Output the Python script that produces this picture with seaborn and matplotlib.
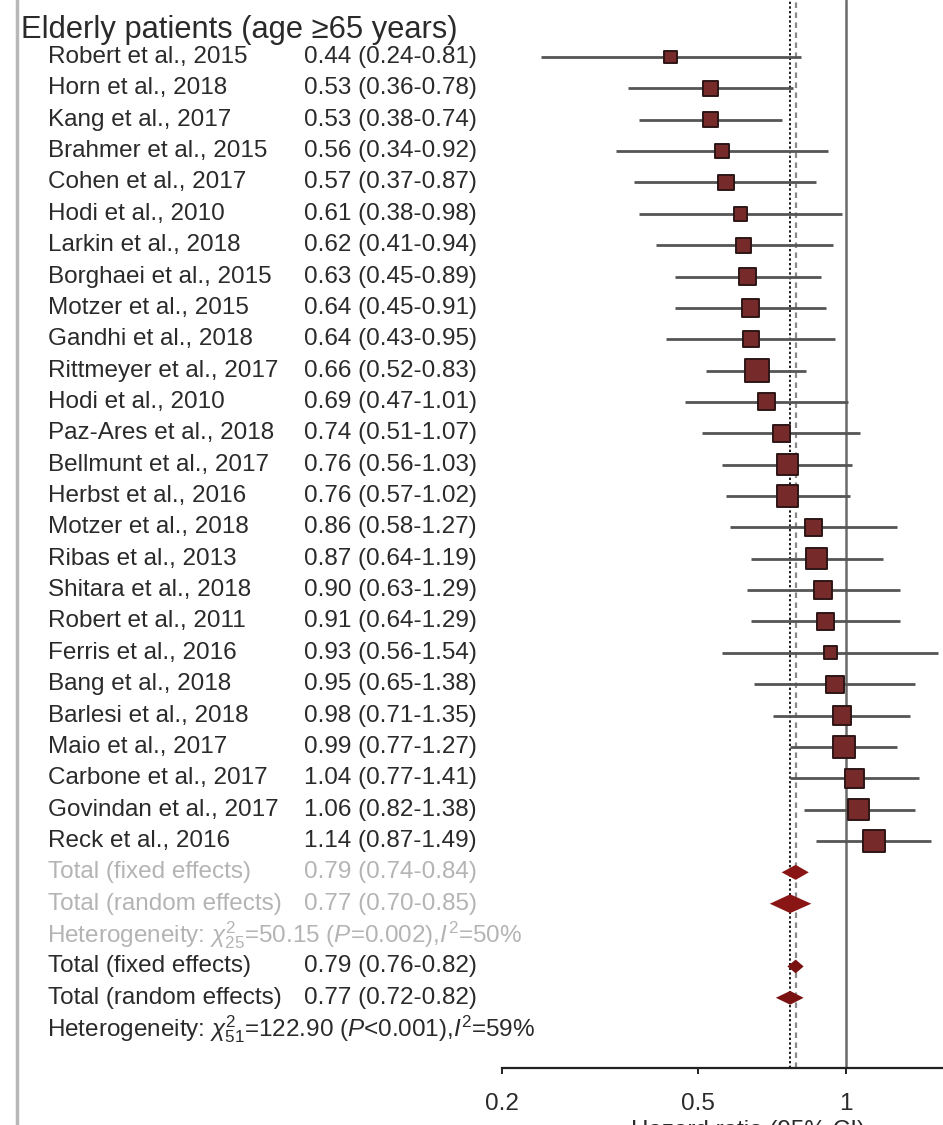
import numpy as np
import pandas as pd
import matplotlib
matplotlib.use("Agg")
import matplotlib.pyplot as plt
import seaborn as sns
from matplotlib.lines import Line2D
from matplotlib.transforms import blended_transform_factory

# ---------------- data ----------------
title = "Elderly patients (age \u226565 years)"
studies = ["Robert et al., 2015", "Horn et al., 2018", "Kang et al., 2017",
           "Brahmer et al., 2015", "Cohen et al., 2017", "Hodi et al., 2010",
           "Larkin et al., 2018", "Borghaei et al., 2015", "Motzer et al., 2015",
           "Gandhi et al., 2018", "Rittmeyer et al., 2017", "Hodi et al., 2010",
           "Paz-Ares et al., 2018", "Bellmunt et al., 2017", "Herbst et al., 2016",
           "Motzer et al., 2018", "Ribas et al., 2013", "Shitara et al., 2018",
           "Robert et al., 2011", "Ferris et al., 2016", "Bang et al., 2018",
           "Barlesi et al., 2018", "Maio et al., 2017", "Carbone et al., 2017",
           "Govindan et al., 2017", "Reck et al., 2016"]
hr = [0.44, 0.53, 0.53, 0.56, 0.57, 0.61, 0.62, 0.63, 0.64, 0.64, 0.66, 0.69, 0.74,
      0.76, 0.76, 0.86, 0.87, 0.90, 0.91, 0.93, 0.95, 0.98, 0.99, 1.04, 1.06, 1.14]
lo = [0.24, 0.36, 0.38, 0.34, 0.37, 0.38, 0.41, 0.45, 0.45, 0.43, 0.52, 0.47, 0.51,
      0.56, 0.57, 0.58, 0.64, 0.63, 0.64, 0.56, 0.65, 0.71, 0.77, 0.77, 0.82, 0.87]
hi = [0.81, 0.78, 0.74, 0.92, 0.87, 0.98, 0.94, 0.89, 0.91, 0.95, 0.83, 1.01, 1.07,
      1.03, 1.02, 1.27, 1.19, 1.29, 1.29, 1.54, 1.38, 1.35, 1.27, 1.41, 1.38, 1.49]
# relative study weights (marker area)
weights = [1.4, 2.0, 2.0, 1.6, 2.0, 1.6, 2.0, 2.6, 2.6, 2.2, 4.8, 2.5, 2.5,
           4.0, 4.0, 2.5, 3.8, 2.8, 2.5, 1.4, 2.6, 2.9, 4.4, 3.2, 4.0, 4.0]

summary_labels = ["Total (fixed effects)", "Total (random effects)"]
sub_hr = [0.79, 0.77]
sub_lo = [0.74, 0.70]
sub_hi = [0.84, 0.85]
all_hr = [0.79, 0.77]
all_lo = [0.76, 0.72]
all_hi = [0.82, 0.82]
het_sub = r"Heterogeneity: $\chi^{2}_{25}$=50.15 ($P$=0.002),$I^{2}$=50%"
het_all = r"Heterogeneity: $\chi^{2}_{51}$=122.90 ($P$<0.001),$I^{2}$=59%"
xticks = [0.2, 0.5, 1, 2]
xticklabels = ["0.2", "0.5", "1", "2"]
xlabel = "Hazard ratio (95% CI)"

# ---------------- style ----------------
sns.set_theme(style="white")
plt.rcParams["font.family"] = ["Liberation Sans", "DejaVu Sans"]
plt.rcParams["mathtext.fontset"] = "custom"
plt.rcParams["mathtext.rm"] = "Liberation Sans"
plt.rcParams["mathtext.it"] = "Liberation Sans:italic"
plt.rcParams["mathtext.bf"] = "Liberation Sans:bold"

W, H = 943, 1125
fig = plt.figure(figsize=(W / 100, H / 100), dpi=100)
axis_px = 1068
ax = fig.add_axes([0, (H - axis_px) / H, 1, axis_px / H])
row0_px, row_step = 57, 31.36
ax.set_xscale("log")
px_per_ln = 213.6
x_left = np.exp((0 - 846) / px_per_ln)
x_right = np.exp((W - 846) / px_per_ln)

fs = 17.5
txt_dark = "#2a2a2a"
txt_grey = "#b4b4b4"
tr = blended_transform_factory(ax.transAxes, ax.transData)
def xf(px):
    return px / W

n = len(studies)
rows = np.arange(n)
df = pd.DataFrame({"study": studies, "hr": hr, "lo": lo, "hi": hi,
                   "w": weights, "row": rows})

# reference lines
ax.axvline(1, color="#6a6a6a", lw=1.8, zorder=1)
ax.axvline(0.77, color="#1a1a1a", lw=1.4, ls=(0, (1.2, 1.2)), zorder=1)
ax.axvline(0.79, color="#8a8a8a", lw=1.6, ls=(0, (2.5, 2.0)), zorder=1)

# CI lines
ax.hlines(df["row"], df["lo"], df["hi"], color="#555555", lw=2.0, zorder=2)

# study squares
k = 60.0
sns.scatterplot(data=df, x="hr", y="row", size="w", sizes=(0, k * max(weights)),
                size_norm=(0, max(weights)), marker="s", color="#762a2a",
                edgecolor="#2e1616", linewidth=1.4, legend=False, ax=ax, zorder=3)

# diamonds
def diamond(y, c, l, h, half, color):
    ax.fill([l, c, h, c], [y, y - half, y, y + half], color=color, lw=0, zorder=4)

sum_rows_sub = [n, n + 1]
sum_rows_all = [n + 3, n + 4]
diamond(sum_rows_sub[0], sub_hr[0], sub_lo[0], sub_hi[0], 0.24, "#8a1515")
diamond(sum_rows_sub[1], sub_hr[1], sub_lo[1], sub_hi[1], 0.30, "#8a1515")
diamond(sum_rows_all[0], all_hr[0], all_lo[0], all_hi[0], 0.22, "#7a1212")
diamond(sum_rows_all[1], all_hr[1], all_lo[1], all_hi[1], 0.22, "#7a1212")

# texts
ax.text(xf(21), (30 - row0_px) / row_step, title, transform=tr, fontsize=22.2,
        color=txt_dark, va="center", ha="left")
for i in range(n):
    ax.text(xf(48), i, studies[i], transform=tr, fontsize=fs, color=txt_dark,
            va="center", ha="left")
    ax.text(xf(304), i, f"{hr[i]:.2f} ({lo[i]:.2f}-{hi[i]:.2f})", transform=tr,
            fontsize=fs, color=txt_dark, va="center", ha="left")
for j in range(2):
    ax.text(xf(48), sum_rows_sub[j], summary_labels[j], transform=tr, fontsize=fs,
            color=txt_grey, va="center", ha="left")
    ax.text(xf(304), sum_rows_sub[j], f"{sub_hr[j]:.2f} ({sub_lo[j]:.2f}-{sub_hi[j]:.2f})",
            transform=tr, fontsize=fs, color=txt_grey, va="center", ha="left")
    ax.text(xf(48), sum_rows_all[j], summary_labels[j], transform=tr, fontsize=fs,
            color=txt_dark, va="center", ha="left")
    ax.text(xf(304), sum_rows_all[j], f"{all_hr[j]:.2f} ({all_lo[j]:.2f}-{all_hi[j]:.2f})",
            transform=tr, fontsize=fs, color=txt_dark, va="center", ha="left")
ax.text(xf(47), n + 2, het_sub, transform=tr, fontsize=fs, color=txt_grey,
        va="center", ha="left")
ax.text(xf(47), n + 5, het_all, transform=tr, fontsize=fs, color=txt_dark,
        va="center", ha="left")

# axis
for s in ["top", "right", "left"]:
    ax.spines[s].set_visible(False)
ax.spines["bottom"].set_bounds(0.2, 2)
ax.spines["bottom"].set_color("#222222")
ax.spines["bottom"].set_linewidth(1.6)
ax.set_xticks(xticks)
ax.set_xticklabels(xticklabels)
ax.xaxis.set_minor_locator(matplotlib.ticker.NullLocator())
ax.tick_params(axis="x", direction="out", length=4, width=1.4, color="#222222",
               labelsize=fs, labelcolor=txt_dark, pad=14, bottom=True)
ax.set_yticks([])
ax.set_ylabel("")
ax.set_xlabel(xlabel, fontsize=fs, color=txt_dark)
ax.xaxis.set_label_coords(xf(748), -0.049)
ax.patch.set_alpha(0)

# limits last so nothing rescales them
ax.set_xlim(x_left, x_right)
ax.set_ylim((axis_px - row0_px) / row_step, (0 - row0_px) / row_step)

# left frame line
fig.add_artist(Line2D([xf(17), xf(17)], [0, 1], transform=fig.transFigure,
                      color="#b8b8b8", lw=2.5))

fig.savefig("out.png", dpi=100)
